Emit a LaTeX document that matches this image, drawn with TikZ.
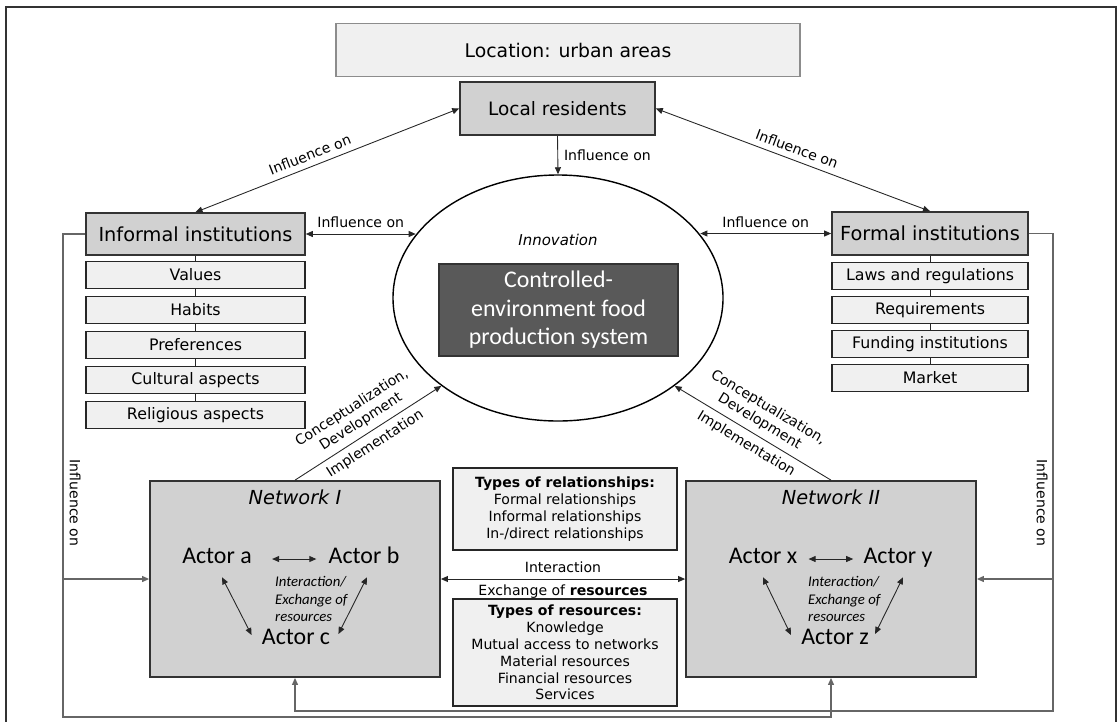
\documentclass[tikz,border=0pt]{standalone}
\usepackage{fontspec}
\setmainfont{DejaVu Sans}
\newfontfamily\calfont{Carlito}
\usetikzlibrary{arrows.meta,shapes.geometric}

\newcommand{\px}{0.02cm}

\tikzset{
  >={Triangle[length=4pt,width=3.4pt]},
  frame/.style={draw=black!80, line width=1.3pt},
  conn/.style={draw=black!85, line width=0.5pt},
  back/.style={draw=black!60, line width=0.7pt},
  topbox/.style={draw=black!45, fill=black!6, line width=0.8pt, font={\fontsize{10.7}{13}\selectfont}},
  headbox/.style={draw=black!80, fill=black!18, line width=0.9pt, font={\fontsize{11}{13}\selectfont}},
  itembox/.style={draw=black!85, fill=black!6, line width=1pt, minimum height=27*\px, font={\fontsize{9}{11}\selectfont}},
  typebox/.style={draw=black!85, fill=black!6, line width=1pt, minimum width=224*\px, align=center, font={\fontsize{8}{9.6}\selectfont}},
  netbox/.style={draw=black!80, fill=black!18, line width=1pt, minimum width=290*\px, minimum height=196*\px},
  actor/.style={font={\calfont\fontsize{13.6}{16}\selectfont}, inner sep=0pt, text height=0.7em, text depth=0.2em},
  actnote/.style={anchor=west, align=left, font={\calfont\itshape\fontsize{8.4}{10}\selectfont}},
  lbl/.style={font={\fontsize{8}{9.5}\selectfont}},
}

\begin{document}
\begin{tikzpicture}[x=0.02cm, y=-0.02cm]
        \useasboundingbox (0,0) rectangle (1118,721);

        % outer frame (cut at the bottom)
        \draw[frame] (6,730) -- (6,7) -- (1116,7) -- (1116,730);

        % top
        \node[topbox, minimum width=464*\px, minimum height=53*\px] (loc) at (568,50) {Location: urban areas};
        \node[headbox, minimum width=195*\px, minimum height=53*\px, font={\fontsize{10.5}{13}\selectfont}] (lr) at (557.5,108.5) {Local residents};

        % innovation
        \node[ellipse, draw=black, line width=0.8pt, minimum width=330*\px, minimum height=246*\px, inner sep=0pt] (ell) at (558,298) {};
        \node[font={\itshape\fontsize{8.5}{10}\selectfont}] (innov) at (558,240) {Innovation};
        \node[draw=black!80, fill=black!65, text=white, line width=0.8pt, minimum width=239*\px, minimum height=92*\px, align=center, font={\calfont\fontsize{13.6}{16.2}\selectfont}] (cefp) at (558.5,310) {Controlled-\\environment food\\production system};

        % informal institutions
        \node[headbox, minimum width=219*\px, minimum height=42*\px] (inf) at (195.5,234) {Informal institutions};
        \foreach \t [count=\i] in {Values, Habits, Preferences, Cultural aspects, Religious aspects}
            \node[itembox, minimum width=219*\px] (inf\i) at (195.5,{240+35*\i}) {\t};
        \draw[conn] (inf.south) -- (inf1.north);
        \foreach \i/\j in {1/2,2/3,3/4,4/5}
            \draw[conn] (inf\i.south) -- (inf\j.north);

        % formal institutions
        \node[headbox, minimum width=196*\px, minimum height=43*\px] (frm) at (930,233.5) {Formal institutions};
        \foreach \t [count=\i] in {Laws and regulations, Requirements, Funding institutions, Market}
            \node[itembox, minimum width=196*\px] (frm\i) at (930,{242+34*\i}) {\t};
        \draw[conn] (frm.south) -- (frm1.north);
        \foreach \i/\j in {1/2,2/3,3/4}
            \draw[conn] (frm\i.south) -- (frm\j.north);

        % influence arrows
        \draw[conn,<->] (inf.north) -- node[lbl, above, sloped, pos=0.45] {Influence on} (lr.west);
        \draw[conn,<->] (lr.east) -- node[lbl, above, sloped] {Influence on} (frm.north);
        \draw[conn,->] (lr.south) -- node[lbl, right] {Influence on} (ell.north);
        \draw[conn,<->] (inf.east) -- node[lbl, above] {Influence on} (inf.east -| ell.156);
        \draw[conn,<->] (frm.west -| ell.24) -- node[lbl, above] {Influence on} (frm.west);

        % network I
        \node[netbox] (net1) at (295,579) {};
        \node[font={\itshape\fontsize{11}{13}\selectfont}] (n1lab) at (295,497) {Network I};
        \node[actor] (aa) at (217,559) {Actor a};
        \node[actor] (ab) at (364,559) {Actor b};
        \node[actor] (ac) at (296,640) {Actor c};
        \node[actnote] (n1note) at (269,599) {Interaction/\\Exchange of\\resources};
        \draw[conn,<->] ([shift={(20,0)}]aa.east) -- ([shift={(-12,0)}]ab.west);
        \draw[conn,<->] ([shift={(5,10)}]aa.south) -- ([shift={(-10,-5)}]ac.west);
        \draw[conn,<->] ([shift={(3,10)}]ab.south) -- ([shift={(8,-6)}]ac.east);

        % network II
        \node[netbox] (net2) at (831,579) {};
        \node[font={\itshape\fontsize{11}{13}\selectfont}] (n2lab) at (831,497) {Network II};
        \node[actor] (ax) at (763,559) {Actor x};
        \node[actor] (ay) at (898,559) {Actor y};
        \node[actor] (az) at (835,640) {Actor z};
        \node[actnote] (n2note) at (802,599) {Interaction/\\Exchange of\\resources};
        \draw[conn,<->] ([shift={(11,0)}]ax.east) -- ([shift={(-10,0)}]ay.west);
        \draw[conn,<->] ([shift={(0,10)}]ax.south) -- ([shift={(-10,-5)}]az.west);
        \draw[conn,<->] ([shift={(5,10)}]ay.south) -- ([shift={(6,-6)}]az.east);

        % networks to innovation
        \draw[conn,->] (net1.north) -- node[lbl, above, sloped, align=center] {Conceptualization,\\Development} node[lbl, below, sloped] {Implementation} (ell.217);
        \draw[conn,->] (net2.north) -- node[lbl, above, sloped, align=center] {Conceptualization,\\Development} node[lbl, below, sloped] {Implementation} (ell.323);

        % between the networks
        \node[typebox, minimum height=82*\px] (rel) at (565,509) {\textbf{Types of relationships:}\\Formal relationships\\Informal relationships\\In-/direct relationships};
        \node[typebox, minimum height=101*\px] (res) at (565,652.5) {\textbf{Types of resources:}\\Knowledge\\Mutual access to networks\\Material resources\\Financial resources\\Services};
        \draw[conn,<->] (net1.east) -- node[lbl, above] {Interaction} node[lbl, below] {Exchange of \textbf{resources}} (net2.west);

        % feedback lines from the institutions
        \coordinate (lcorner) at (63,717);
        \coordinate (lbranch) at (63,579);
        \coordinate (rcorner) at (1053,711);
        \coordinate (rbranch) at (1053,579);
        \draw[back,->] (inf.west) -| (lcorner) -| (net2.south);
        \draw[back,->] (lbranch) -- (net1.west);
        \draw[back,->] (frm.east) -| (rcorner) -| (net1.south);
        \draw[back,->] (rbranch) -- (net2.east);
        \node[lbl, rotate=-90] (linf) at (75,503) {Influence on};
        \node[lbl, rotate=-90] (rinf) at (1042,503) {Influence on};
    \end{tikzpicture}
\end{document}
